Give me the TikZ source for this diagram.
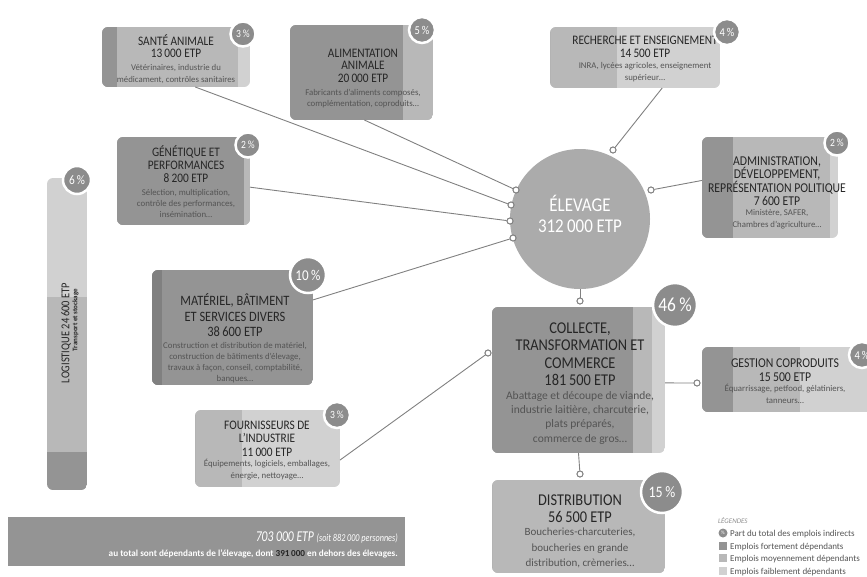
\documentclass[tikz,border=0pt]{standalone}
\usepackage{fontspec}
\setmainfont{Carlito}
\newfontfamily\tf[FakeStretch=0.87]{Carlito}
\newfontfamily\tfc[FakeStretch=0.78]{Carlito}
\usetikzlibrary{calc}
\newcommand\setfs[2]{\fontsize{#1}{#2}\selectfont}
\definecolor{cdarker}{gray}{0.50}
\definecolor{cdark}{gray}{0.58}
\definecolor{cmed}{gray}{0.72}
\definecolor{clight}{gray}{0.82}
\definecolor{cpct}{gray}{0.55}
\definecolor{celev}{gray}{0.67}
\definecolor{cline}{gray}{0.50}
\definecolor{cban}{gray}{0.58}
\definecolor{ctitle}{gray}{0.15}
\definecolor{csub}{gray}{0.33}
\newcounter{txl}
\newcommand\txl[4]{\stepcounter{txl}\node[#3,anchor=base] (txl\arabic{txl}) at (#1,#2) {#4};}
% name, x0, y0, x1, y1, split1, split2, colour1, colour2 (third band is clight)
\newcommand\bandbox[9]{%
  \begin{scope}
    \clip[rounded corners=6pt] (#2,#3) rectangle (#4,#5);
    \fill[clight] (#2,#3) rectangle (#4,#5);
    \fill[#9] (#2,#3) rectangle (#7,#5);
    \fill[#8] (#2,#3) rectangle (#6,#5);
  \end{scope}
  \node[inner sep=0, outer sep=0, minimum width={#4-#2}, minimum height={#5-#3}] (#1) at ({(#2+#4)/2},{(#3+#5)/2}) {};
}
\tikzset{
  ttl/.style={inner sep=0, text=ctitle, font={\tf\setfs{#1}{#1}}},
  ttl/.default=13,
  sub/.style={inner sep=0, text=csub, font={\setfs{#1}{#1}}},
  sub/.default=8.8,
  conn/.style={draw=cline, line width=0.9pt},
  endo/.style={circle, draw=cline, fill=white, line width=0.9pt, inner sep=0, minimum size=6},
  pct/.style={circle, fill=cpct, draw=white, line width=2.5pt, inner sep=0, text=white},
  leg/.style={inner sep=0, anchor=base west, text=csub, font={\setfs{9}{9}}},
}
\begin{document}
\begin{tikzpicture}[x=1pt,y=-1pt]
\path[use as bounding box] (0,0) rectangle (867,576);

% ---------- central circle
\node[circle, fill=celev, minimum size=140, inner sep=0] (elev) at (580,219) {};
\txl{580}{211.5}{ttl=19.5,text=white}{ÉLEVAGE}
\txl{580}{232.5}{ttl=19.5,text=white}{312\,000 ETP}

% ---------- boxes
\bandbox{sante}{102}{27}{250}{87}{117}{238}{cdark}{cmed}
\bandbox{alim}{290}{25}{433}{120}{403}{433}{cdark}{cmed}
\bandbox{rech}{550}{27}{720}{88}{550}{617}{cdark}{cmed}
\bandbox{gen}{117}{137}{250}{225}{244}{250}{cdark}{cmed}
\bandbox{admin}{702}{137}{838}{238}{733}{830}{cdark}{cmed}
\bandbox{mat}{152}{270}{313}{385}{162}{313}{cdarker}{cdark}
\bandbox{col}{492}{307}{665}{453}{633}{652}{cdark}{cmed}
\bandbox{gest}{702}{347}{880}{412}{733}{800}{cdark}{cmed}
\bandbox{fourn}{195}{410}{340}{487}{195}{242}{cdark}{cmed}
\bandbox{dist}{492}{480}{665}{573}{492}{665}{cdark}{cmed}

% logistics bar (vertical bands)
\begin{scope}
  \clip[rounded corners=6pt] (47,178) rectangle (87,490);
  \fill[clight] (47,178) rectangle (87,297);
  \fill[cmed] (47,297) rectangle (87,452);
  \fill[cdark] (47,452) rectangle (87,490);
\end{scope}
\node[inner sep=0, minimum width=40, minimum height=312] (logi) at (67,334) {};

% ---------- connectors
\node[endo] (oAlim) at (516,190) {};
\node[endo] (oSante) at (511,205) {};
\node[endo] (oGen) at (510,221) {};
\node[endo] (oMat) at (513,238) {};
\node[endo] (oRech) at (613,150) {};
\node[endo] (oAdmin) at (651,190) {};
\node[endo] (oCol) at (580,301) {};
\node[endo] (oFourn) at (488,353) {};
\node[endo] (oGest) at (697,383) {};
\node[endo] (oDist) at (580,474) {};
\draw[conn] ($(sante.south west)!0.63!(sante.south east)$) -- (oSante);
\draw[conn] ($(alim.south west)!0.52!(alim.south east)$) -- (oAlim);
\draw[conn] ($(gen.north east)!0.57!(gen.south east)$) -- (oGen);
\draw[conn] ($(mat.north east)!0.26!(mat.south east)$) -- (oMat);
\draw[conn] ($(rech.south west)!0.66!(rech.south east)$) -- (oRech);
\draw[conn] ($(admin.north west)!0.43!(admin.south west)$) -- (oAdmin);
\draw[conn] (elev.south) -- (oCol);
\draw[conn] ($(fourn.north east)!0.65!(fourn.south east)$) -- (oFourn);
\draw[conn] ($(col.north east)!0.52!(col.south east)$) -- (oGest);
\draw[conn] (col.south) -- (oDist);
\foreach \n in {oAlim,oSante,oGen,oMat,oRech,oAdmin,oCol,oFourn,oGest,oDist}
  \node[endo] at (\n) {};

% ---------- texts
\txl{176}{45}{ttl}{SANTÉ ANIMALE}
\txl{176}{57}{ttl}{13\,000 ETP}
\txl{176}{70}{sub}{Vétérinaires, industrie du}
\txl{176}{82}{sub}{médicament, contrôles sanitaires}

\txl{363}{57}{ttl}{ALIMENTATION}
\txl{363}{69}{ttl}{ANIMALE}
\txl{363}{82}{ttl}{20\,000 ETP}
\txl{363}{95}{sub}{Fabricants d’aliments composés,}
\txl{363}{106}{sub}{complémentation, coproduits…}

\txl{645}{44}{ttl}{RECHERCHE ET ENSEIGNEMENT}
\txl{645}{57}{ttl}{14\,500 ETP}
\txl{645}{68}{sub}{INRA, lycées agricoles, enseignement}
\txl{645}{80}{sub}{supérieur…}

\txl{186}{156}{ttl}{GÉNÉTIQUE ET}
\txl{186}{169}{ttl}{PERFORMANCES}
\txl{186}{182}{ttl}{8\,200 ETP}
\txl{186}{195}{sub}{Sélection, multiplication,}
\txl{186}{206}{sub}{contrôle des performances,}
\txl{186}{217}{sub}{insémination…}

\txl{777}{165}{ttl=13.5}{ADMINISTRATION,}
\txl{777}{178.5}{ttl=13.5}{DÉVELOPPEMENT,}
\txl{777}{192}{ttl=13.5}{REPRÉSENTATION POLITIQUE}
\txl{777}{205}{ttl=13.5}{7\,600 ETP}
\txl{777}{215}{sub}{Ministère, SAFER,}
\txl{777}{227}{sub}{Chambres d’agriculture…}

\txl{235}{305}{ttl=14.3}{MATÉRIEL, BÂTIMENT}
\txl{235}{321}{ttl=14.3}{ET SERVICES DIVERS}
\txl{235}{336}{ttl=14.3}{38\,600 ETP}
\txl{235}{348}{sub}{Construction et distribution de matériel,}
\txl{235}{359}{sub}{construction de bâtiments d’élevage,}
\txl{235}{370}{sub}{travaux à façon, conseil, comptabilité,}
\txl{235}{381}{sub}{banques…}

\txl{580}{333.5}{ttl=16.5}{COLLECTE,}
\txl{580}{350.5}{ttl=16.5}{TRANSFORMATION ET}
\txl{580}{368.5}{ttl=16.5}{COMMERCE}
\txl{580}{385.5}{ttl=16.5}{181\,500 ETP}
\txl{580}{399}{sub=11.5}{Abattage et découpe de viande,}
\txl{580}{413}{sub=11.5}{industrie laitière, charcuterie,}
\txl{580}{427}{sub=11.5}{plats préparés,}
\txl{580}{442}{sub=11.5}{commerce de gros…}

\txl{785}{367.5}{ttl=13.5}{GESTION COPRODUITS}
\txl{785}{381.5}{ttl=13.5}{15\,500 ETP}
\txl{785}{391}{sub}{Équarrissage, petfood, gélatiniers,}
\txl{785}{403}{sub}{tanneurs…}

\txl{267}{429}{ttl}{FOURNISSEURS DE}
\txl{267}{442}{ttl}{L’INDUSTRIE}
\txl{267}{456}{ttl}{11\,000 ETP}
\txl{267}{466}{sub}{Équipements, logiciels, emballages,}
\txl{267}{478}{sub}{énergie, nettoyage…}

\txl{580}{505.5}{ttl=16.5}{DISTRIBUTION}
\txl{580}{522.5}{ttl=16.5}{56\,500 ETP}
\txl{580}{535.5}{sub=11}{Boucheries-charcuteries,}
\txl{580}{551}{sub=11}{boucheries en grande}
\txl{580}{566}{sub=11}{distribution, crèmeries…}

\node[ttl=12, rotate=90] (logT) at (66,333) {LOGISTIQUE 24\,600 ETP};
\node[inner sep=0, text=ctitle, font={\bfseries\setfs{7}{7}}, rotate=90] (logS) at (75.5,320) {Transport et stockage};

% ---------- percentage badges
\node[pct, minimum size=25, font={\tf\setfs{11}{11}}] (pSante) at (243,34) {3\,\%};
\node[pct, minimum size=26, font={\tf\setfs{12}{12}}] (pAlim) at (422,30) {5\,\%};
\node[pct, minimum size=26, font={\tf\setfs{12}{12}}] (pRech) at (727,32) {4\,\%};
\node[pct, minimum size=25, font={\tf\setfs{11}{11}}] (pGen) at (248,145) {2\,\%};
\node[pct, minimum size=25, font={\tf\setfs{11}{11}}] (pAdmin) at (837,143) {2\,\%};
\node[pct, minimum size=28, font={\tf\setfs{13}{13}}] (pLogi) at (77,180) {6\,\%};
\node[pct, minimum size=36, font={\tf\setfs{15}{15}}] (pMat) at (308,275) {10\,\%};
\node[pct, minimum size=44, font={\tf\setfs{20}{20}}] (pCol) at (675,305) {46\,\%};
\node[pct, minimum size=26, font={\tf\setfs{12}{12}}] (pGest) at (862,355) {4\,\%};
\node[pct, minimum size=26, font={\tf\setfs{11}{11}}] (pFourn) at (337,415) {3\,\%};
\node[pct, minimum size=42, font={\tf\setfs{16}{16}}] (pDist) at (662,492) {15\,\%};

% ---------- banner
\node[fill=cban, inner sep=0, minimum width=397, minimum height=49] (banner) at (206.5,541.5) {};
\node[inner sep=0, anchor=base east, text=white] (ban1) at (398,541)
  {\tfc\itshape\setfs{15}{15}703\,000 ETP {\setfs{10.5}{10.5}(soit 882\,000 personnes)}};
\node[inner sep=0, anchor=base east, text=white] (ban2) at (398,556)
  {\setfs{9.2}{9.2}\bfseries au total sont dépendants de l’élevage, dont \textcolor{black!85}{391\,000} en dehors des élevages.};

% ---------- legend
\node[inner sep=0, anchor=base west, text=black!45, font={\itshape\setfs{7}{7}}] (legT) at (718,523) {LÉGENDES};
\node[circle, fill=cpct, inner sep=0, minimum size=9, text=white, font={\setfs{5}{5}}] (legI0) at (723,533) {\%};
\node[leg] (leg0) at (730,536) {Part du total des emplois indirects};
\node[fill=cdark, inner sep=0, minimum size=8] (legI1) at (723,546) {};
\node[leg] (leg1) at (730,549) {Emplois fortement dépendants};
\node[fill=cmed, inner sep=0, minimum size=8] (legI2) at (723,558) {};
\node[leg] (leg2) at (730,561) {Emplois moyennement dépendants};
\node[fill=clight, inner sep=0, minimum size=8] (legI3) at (723,571) {};
\node[leg] (leg3) at (730,574) {Emplois faiblement dépendants};
\end{tikzpicture}
\end{document}
